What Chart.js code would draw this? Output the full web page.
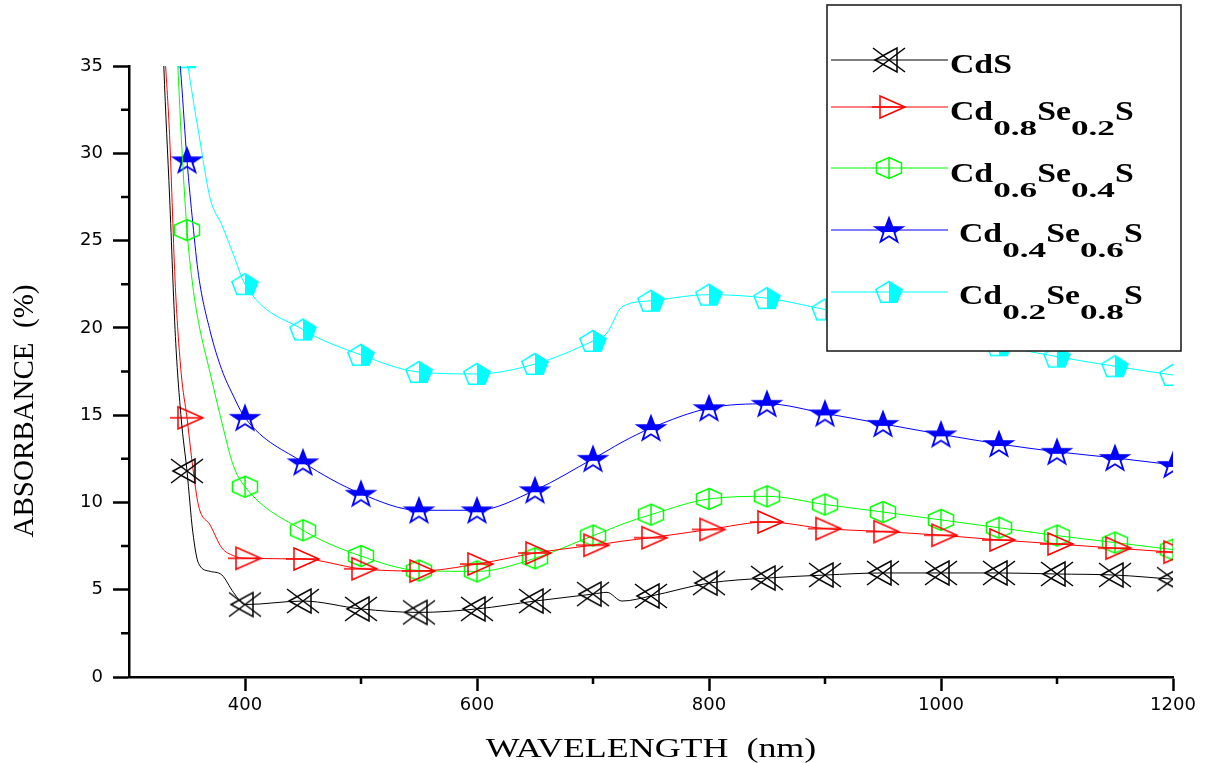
<!DOCTYPE html>
<html>
<head>
<meta charset="utf-8">
<script src="https://cdn.jsdelivr.net/npm/chart.js@4"></script>
<style>
  body { margin: 0; background: #fff; }
  canvas { display: block; }
</style>
</head>
<body>
<canvas id="absChart" width="1217" height="763"></canvas>
<script>
// wavelength grid (nm) and absorbance (%)
const wavelength = [325, 330, 335, 340, 345, 350, 355, 360, 370, 380, 390, 400,
  450, 500, 550, 600, 650, 700, 712, 725, 750, 800, 850, 900, 950, 1000, 1050, 1100, 1150, 1200];

const cds   = [45, 35, 27.5, 19.5, 14.8, 11.8, 8.3, 6.5, 6.05, 5.85, 4.85, 4.15,
  4.35, 3.9, 3.7, 3.9, 4.35, 4.75, 4.85, 4.35, 4.64, 5.38, 5.67, 5.84, 5.96, 5.96, 5.96, 5.9, 5.84, 5.6];
const cd08  = [46, 37, 31, 22.3, 17.4, 14.85, 12.0, 9.8, 8.7, 7.4, 6.95, 6.8,
  6.76, 6.2, 6.07, 6.47, 7.1, 7.55, 7.65, 7.78, 7.98, 8.45, 8.88, 8.5, 8.33, 8.12, 7.85, 7.62, 7.38, 7.15];
const cd06  = [62, 52, 44, 38, 31, 25.6, 22.4, 20.3, 17.4, 14.6, 12.1, 10.9,
  8.4, 6.93, 6.1, 6.05, 6.8, 8.1, 8.4, 8.75, 9.3, 10.2, 10.35, 9.88, 9.45, 9.0, 8.55, 8.1, 7.7, 7.3];
const cd04  = [62, 52, 45, 38.5, 34.3, 29.6, 26.0, 23.0, 19.8, 17.6, 16.1, 14.85,
  12.3, 10.5, 9.55, 9.55, 10.7, 12.5, 12.95, 13.45, 14.26, 15.4, 15.65, 15.1, 14.5, 13.9, 13.35, 12.9, 12.55, 12.15];
const cd02  = [80, 60, 50, 44, 39, 35.5, 33.2, 31.2, 27.4, 25.9, 24.2, 22.5,
  19.9, 18.45, 17.47, 17.36, 17.93, 19.25, 19.7, 21.2, 21.55, 21.9, 21.7, 21.05, 20.4, 19.8, 19.0, 18.35, 17.8, 17.3];

const xTicks = [400, 600, 800, 1000, 1200];
const xMinor = [500, 700, 900, 1100];
const yTicks = [0, 5, 10, 15, 20, 25, 30, 35];
const yMinor = [2.5, 7.5, 12.5, 17.5, 22.5, 27.5, 32.5];

// legend text: [text, isSubscript]
const legendParts = [
  [['CdS', 0]],
  [['Cd', 0], ['0.8', 1], ['Se', 0], ['0.2', 1], ['S', 0]],
  [['Cd', 0], ['0.6', 1], ['Se', 0], ['0.4', 1], ['S', 0]],
  [['Cd', 0], ['0.4', 1], ['Se', 0], ['0.6', 1], ['S', 0]],
  [['Cd', 0], ['0.2', 1], ['Se', 0], ['0.8', 1], ['S', 0]]
];
const colors = ['#000000', '#ff0000', '#00ff00', '#0000ff', '#00ffff'];

// ---- marker glyphs ----
function makeMarker(color, drawFn) {
  const c = document.createElement('canvas');
  c.width = 40; c.height = 32;
  const g = c.getContext('2d');
  g.translate(20, 16);
  g.strokeStyle = color;
  g.fillStyle = color;
  g.lineWidth = 1.5;
  drawFn(g);
  return c;
}
function poly(g, pts) {
  g.beginPath();
  pts.forEach((p, i) => i ? g.lineTo(p[0], p[1]) : g.moveTo(p[0], p[1]));
  g.closePath();
}
const markers = [
  makeMarker(colors[0], g => {
    g.beginPath();
    g.moveTo(-16, -12); g.lineTo(16, 12);
    g.moveTo(-16, 12); g.lineTo(16, -12);
    g.stroke();
    poly(g, [[-14, 0], [8, -12], [8, 12]]);
    g.stroke();
  }),
  makeMarker(colors[1], g => {
    poly(g, [[-9, -11], [16, 0], [-9, 11]]);
    g.stroke();
    g.beginPath(); g.moveTo(-17, 0); g.lineTo(16, 0); g.stroke();
  }),
  makeMarker(colors[2], g => {
    poly(g, [[0, -10.5], [12.5, -5], [12.5, 5], [0, 10.5], [-12.5, 5], [-12.5, -5]]);
    g.stroke();
    g.beginPath(); g.moveTo(0, -10.5); g.lineTo(0, 10.5); g.stroke();
  }),
  makeMarker(colors[3], g => {
    const pts = [];
    for (let i = 0; i < 10; i++) {
      const a = -Math.PI / 2 + i * Math.PI / 5;
      const r = i % 2 ? 5.2 : 13;
      pts.push([Math.cos(a) * r * 1.1, Math.sin(a) * r + 1]);
    }
    g.save();
    g.beginPath(); g.rect(-20, -20, 40, 22); g.clip();
    poly(g, pts); g.fill();
    g.restore();
    g.lineWidth = 1.8;
    poly(g, pts); g.stroke();
  }),
  makeMarker(colors[4], g => {
    const pts = [];
    for (let i = 0; i < 5; i++) {
      const a = -Math.PI / 2 + i * 2 * Math.PI / 5;
      pts.push([Math.cos(a) * 11.5 * 1.2, Math.sin(a) * 11.5 + 1]);
    }
    g.save();
    g.beginPath(); g.rect(0, -20, 20, 40); g.clip();
    poly(g, pts); g.fill();
    g.restore();
    poly(g, pts); g.stroke();
  })
];

const seriesValues = [cds, cd08, cd06, cd04, cd02];
const seriesNames = ['CdS', 'Cd0.8Se0.2S', 'Cd0.6Se0.4S', 'Cd0.4Se0.6S', 'Cd0.2Se0.8S'];

const datasets = seriesValues.map((vals, i) => ({
  label: seriesNames[i],
  data: wavelength.map((w, j) => ({ x: w, y: vals[j] })),
  borderColor: colors[i],
  backgroundColor: colors[i],
  borderWidth: 1,
  cubicInterpolationMode: 'monotone',
  pointStyle: markers[i],
  pointRadius: ctx => {
    const w = wavelength[ctx.dataIndex];
    return (w >= 350 && w % 50 === 0) ? 10 : 0;
  }
}));

const decor = {
  id: 'decor',
  beforeDraw(chart) {
    const ctx = chart.ctx;
    ctx.save();
    ctx.fillStyle = '#fff';
    ctx.fillRect(0, 0, chart.width, chart.height);
    ctx.restore();
  },
  afterDraw(chart) {
    const { ctx, chartArea: area, scales: { x, y } } = chart;
    ctx.save();
    // minor ticks
    ctx.strokeStyle = '#000';
    ctx.lineWidth = 2.5;
    ctx.beginPath();
    xMinor.forEach(v => {
      const px = x.getPixelForValue(v);
      ctx.moveTo(px, area.bottom); ctx.lineTo(px, area.bottom + 7);
    });
    yMinor.forEach(v => {
      const py = y.getPixelForValue(v);
      ctx.moveTo(area.left - 8, py); ctx.lineTo(area.left, py);
    });
    ctx.stroke();

    // axis titles
    ctx.fillStyle = '#000';
    ctx.textBaseline = 'alphabetic';
    ctx.textAlign = 'center';
    ctx.font = '27px "Liberation Serif"';
    ctx.save();
    ctx.translate((area.left + area.right) / 2, 757);
    ctx.scale(1.33, 1);
    ctx.fillText('WAVELENGTH  (nm)', 0, 0);
    ctx.restore();

    ctx.font = '29px "Liberation Serif"';
    ctx.save();
    ctx.translate(33, 411);
    ctx.rotate(-Math.PI / 2);
    ctx.fillText('ABSORBANCE  (%)', 0, 0);
    ctx.restore();

    // legend box
    ctx.fillStyle = '#fff';
    ctx.fillRect(827, 5, 354, 346);
    ctx.strokeStyle = '#222';
    ctx.lineWidth = 1.6;
    ctx.strokeRect(827, 5, 354, 346);

    const rowY = [60, 107, 168, 230, 292];
    const textX = [950, 950, 950, 959, 959];
    const baseY = [73, 120, 182, 242, 304];
    legendParts.forEach((parts, i) => {
      ctx.strokeStyle = colors[i];
      ctx.lineWidth = 1;
      ctx.beginPath();
      ctx.moveTo(831, rowY[i]); ctx.lineTo(948, rowY[i]);
      ctx.stroke();
      const m = markers[i];
      ctx.drawImage(m, 889 - m.width / 2, rowY[i] - m.height / 2);

      ctx.fillStyle = '#000';
      ctx.textAlign = 'left';
      let tx = textX[i];
      parts.forEach(([txt, sub]) => {
        ctx.font = sub ? 'bold 22px "Liberation Serif"' : 'bold 27px "Liberation Serif"';
        const hs = sub ? 1.6 : 1.25;
        ctx.save();
        ctx.translate(tx, baseY[i] + (sub ? 15 : 0));
        ctx.scale(hs, 1);
        ctx.fillText(txt, 0, 0);
        ctx.restore();
        tx += ctx.measureText(txt).width * hs;
      });
    });
    ctx.restore();
  }
};

new Chart(document.getElementById('absChart'), {
  type: 'line',
  data: { datasets: datasets },
  options: {
    responsive: false,
    animation: false,
    events: [],
    layout: { padding: { top: 66, right: 44, left: 0, bottom: 0 } },
    plugins: { legend: { display: false }, tooltip: { enabled: false } },
    scales: {
      x: {
        type: 'linear',
        min: 300,
        max: 1200,
        afterBuildTicks: s => { s.ticks = xTicks.map(v => ({ value: v })); },
        afterFit: s => { s.height = 86; },
        grid: { display: true, drawOnChartArea: false, tickLength: 14, tickWidth: 2.5, tickColor: '#000' },
        border: { display: true, color: '#000', width: 2.5 },
        ticks: { color: '#000', padding: 4, font: { family: 'DejaVu Sans', size: 18 }, callback: v => String(v) }
      },
      y: {
        min: 0,
        max: 35,
        afterBuildTicks: s => { s.ticks = yTicks.map(v => ({ value: v })); },
        afterFit: s => { s.width = 129; },
        grid: { display: true, drawOnChartArea: false, tickLength: 16, tickWidth: 2.5, tickColor: '#000' },
        border: { display: true, color: '#000', width: 2.5 },
        ticks: { color: '#000', padding: 10, font: { family: 'DejaVu Sans', size: 18 }, callback: v => String(v) }
      }
    }
  },
  plugins: [decor]
});
</script>
</body>
</html>
